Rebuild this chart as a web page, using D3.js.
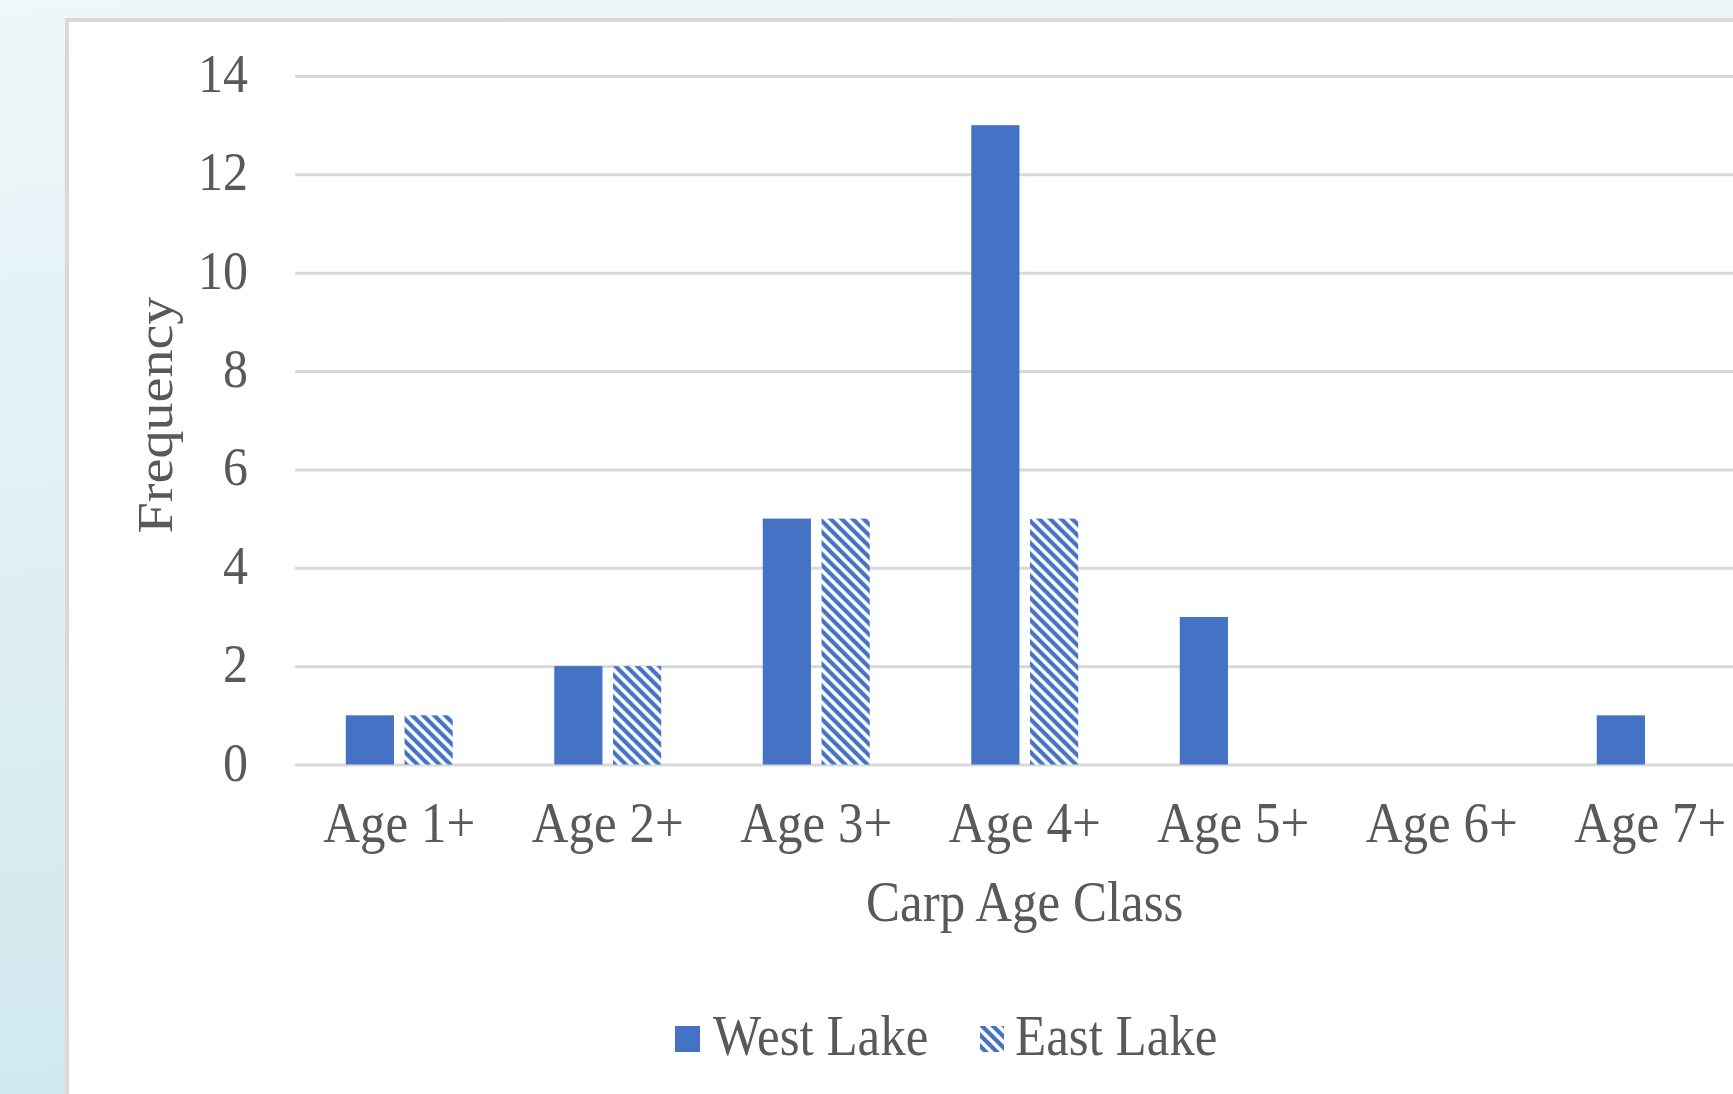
<!DOCTYPE html>
<html>
<head>
<meta charset="utf-8">
<script src="https://cdn.jsdelivr.net/npm/d3@7/dist/d3.min.js"></script>
<style>
  html, body { margin: 0; padding: 0; overflow: hidden; }
  svg { display: block; }
  text { font-family: "Liberation Serif", "Times New Roman", serif; fill: #595959; }
</style>
</head>
<body>
<script>
// Carp age-class frequencies for the two lakes
const categories = ["Age 1+", "Age 2+", "Age 3+", "Age 4+", "Age 5+", "Age 6+", "Age 7+"];
const seriesNames = ["West Lake", "East Lake"];
const westLake = [1, 2, 5, 13, 3, 0, 1];
const eastLake = [1, 2, 5, 5, 0, 0, 0];
const yTicks = [0, 2, 4, 6, 8, 10, 12, 14];
const xTitle = "Carp Age Class";
const yTitle = "Frequency";

const W = 1733, H = 1094;
const blue = "#4472C4";
const textScaleY = 1.1;

const svg = d3.select("body").append("svg").attr("width", W).attr("height", H);
const defs = svg.append("defs");

// page background
const bg = defs.append("linearGradient").attr("id", "bg").attr("x1", 0).attr("y1", 0).attr("x2", 0.15).attr("y2", 1);
bg.append("stop").attr("offset", 0).attr("stop-color", "#eef7f9");
bg.append("stop").attr("offset", 1).attr("stop-color", "#d0e8ee");
svg.append("rect").attr("width", W).attr("height", H).attr("fill", "url(#bg)");

// wide downward diagonal hatch
const P = 11;
const pat = defs.append("pattern").attr("id", "hatch").attr("patternUnits", "userSpaceOnUse")
  .attr("width", P).attr("height", P);
pat.append("rect").attr("width", P).attr("height", P).attr("fill", "#fff");
pat.append("path").attr("d", `M${-P / 2},${-P / 2} L${P * 1.5},${P * 1.5} M${-P / 2},${P / 2} L${P / 2},${P * 1.5} M${P / 2},${-P / 2} L${P * 1.5},${P / 2}`)
  .attr("stroke", blue).attr("stroke-width", 4.2);

// chart panel
svg.append("rect").attr("x", 67).attr("y", 20).attr("width", W).attr("height", H)
  .attr("fill", "#fff").attr("stroke", "#d9d9d9").attr("stroke-width", 4);

const plotLeft = 295, step = 208.5, plotTop = 76, plotBottom = 764.5;
const plotRight = plotLeft + step * categories.length;

const x0 = d3.scaleBand().domain(categories).range([plotLeft, plotRight])
  .paddingInner(0.487).paddingOuter(0.2435);
const x1 = d3.scaleBand().domain(seriesNames).range([0, x0.bandwidth()]).paddingInner(0.18);
const y = d3.scaleLinear().domain([0, 14]).range([plotBottom, plotTop]);

// helper: text slightly stretched vertically around its anchor
function label(g, x, yy, str, size, anchor) {
  return g.append("text")
    .attr("transform", `translate(${x},${yy}) scale(1,${textScaleY})`)
    .attr("text-anchor", anchor || "middle")
    .attr("font-size", size)
    .text(str);
}

// gridlines
const yAxis = d3.axisLeft(y).tickValues(yTicks).tickSize(-(plotRight - plotLeft)).tickFormat("");
const ga = svg.append("g").attr("transform", `translate(${plotLeft},0)`).call(yAxis);
ga.select(".domain").remove();
ga.selectAll(".tick line").attr("stroke", "#d9d9d9").attr("stroke-width", 3);

// y tick labels
const yl = svg.append("g");
yTicks.forEach(t => label(yl, 248, y(t) + 16, String(t), 50, "end"));

// bars
const rows = categories.map((c, i) => ({ cat: c, vals: [westLake[i], eastLake[i]] }));
const groups = svg.append("g").selectAll("g").data(rows).join("g")
  .attr("transform", d => `translate(${x0(d.cat)},0)`);
groups.selectAll("rect").data(d => d.vals.map((v, j) => ({ s: seriesNames[j], v })))
  .join("rect")
  .filter(d => d.v > 0)
  .attr("x", d => x1(d.s))
  .attr("width", x1.bandwidth())
  .attr("y", d => y(d.v))
  .attr("height", d => y(0) - y(d.v))
  .attr("fill", d => d.s === "West Lake" ? blue : "url(#hatch)");

// x tick labels
const xl = svg.append("g");
categories.forEach(c => label(xl, x0(c) + x0.bandwidth() / 2, 842, c, 51));

// axis titles
label(svg, (plotLeft + plotRight) / 2, 921, xTitle, 51);
svg.append("text")
  .attr("transform", `translate(172,415) rotate(-90) scale(${textScaleY},1)`)
  .attr("text-anchor", "middle").attr("font-size", 51).text(yTitle);

// legend
const lg = svg.append("g");
lg.append("rect").attr("x", 675).attr("y", 1026).attr("width", 25).attr("height", 26).attr("fill", blue);
lg.append("rect").attr("x", 980).attr("y", 1026).attr("width", 24).attr("height", 26).attr("fill", "url(#hatch)");
label(lg, 713, 1055, seriesNames[0], 51, "start");
label(lg, 1015, 1055, seriesNames[1], 51, "start");
</script>
</body>
</html>
